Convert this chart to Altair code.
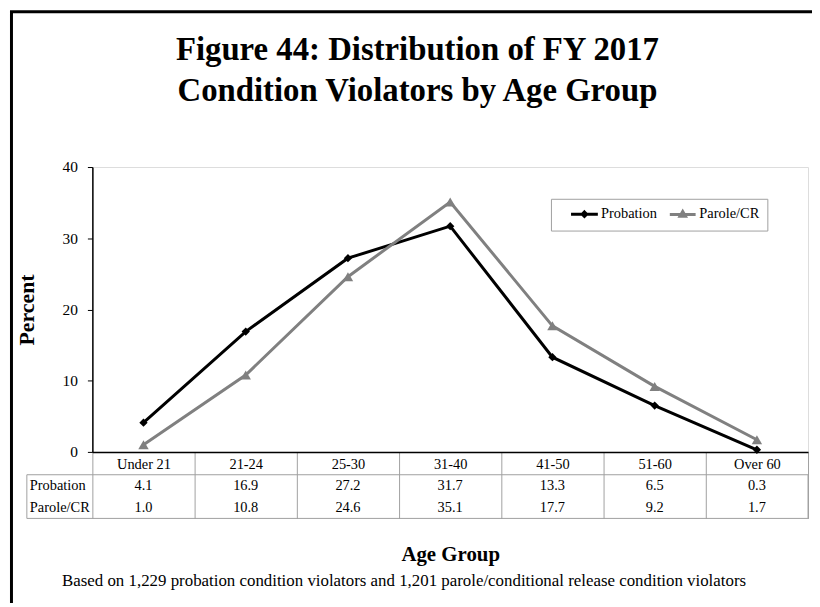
import altair as alt
import pandas as pd

# ---- data ----
categories = ["Under 21", "21-24", "25-30", "31-40", "41-50", "51-60", "Over 60"]
series = ["Probation", "Parole/CR"]
probation = [4.1, 16.9, 27.2, 31.7, 13.3, 6.5, 0.3]
parole = [1.0, 10.8, 24.6, 35.1, 17.7, 9.2, 1.7]
y_ticks = [0, 10, 20, 30, 40]
title_lines = ["Figure 44: Distribution of FY 2017", "Condition Violators by Age Group"]
footnote = "Based on 1,229 probation condition violators and 1,201 parole/conditional release condition violators"

rows = []
for s, vals in zip(series, [probation, parole]):
    for c, v in zip(categories, vals):
        rows.append({"category": c, "series": s, "value": v, "label": f"{v:.1f}"})
df = pd.DataFrame(rows)
series_df = pd.DataFrame({"series": series})
one = pd.DataFrame({"note": [footnote]})

FONT = "Liberation Serif"
GRAY = "#a0a0a0"
W, H = 721, 287

colors = alt.Scale(domain=series, range=["#000000", "#808080"])

X = alt.X(
    "category:N",
    sort=categories,
    bandPosition=0.5,
    scale=alt.Scale(type="band", domain=categories, paddingInner=0, paddingOuter=0),
    axis=alt.Axis(
        title="Age Group",
        titleFont=FONT, titleFontSize=21, titleFontWeight="bold", titleColor="black",
        titlePadding=25,
        labelFont=FONT, labelFontSize=14.5, labelColor="black", labelAngle=0,
        labelBaseline="middle", labelPadding=-54,
        tickBand="extent", tickSize=67, tickColor=GRAY, tickWidth=1,
        domainColor="black", domainWidth=1.5,
    ),
)

yscale = alt.Scale(domain=[0, 40], nice=False, zero=True)

border = alt.Chart(one).mark_rect(fillOpacity=0, stroke="black", strokeWidth=3).encode(
    x=alt.value(-81.5), x2=alt.value(760), y=alt.value(-156.5), y2=alt.value(520)
)

table_box = alt.Chart(one).mark_rect(fillOpacity=0, stroke=GRAY, strokeWidth=1).encode(
    x=alt.value(-66), x2=alt.value(W), y=alt.value(310), y2=alt.value(354)
)

lines = alt.Chart(df).mark_line(strokeWidth=3).encode(
    x=X,
    y=alt.Y(
        "value:Q", scale=yscale,
        axis=alt.Axis(
            values=y_ticks, title="Percent", grid=False,
            titleFont=FONT, titleFontSize=22, titleFontWeight="bold", titleColor="black",
            titlePadding=24,
            labelFont=FONT, labelFontSize=15.5, labelColor="black", labelPadding=10,
            tickSize=5, tickColor="black", domainColor="black", domainWidth=1.5,
        ),
    ),
    color=alt.Color("series:N", scale=colors, legend=None),
    order=alt.Order("series_order:Q"),
).transform_calculate(series_order="datum.series == 'Probation' ? 0 : 1")

points = alt.Chart(df).mark_point(filled=True, opacity=1).encode(
    x=X,
    y=alt.Y("value:Q", scale=yscale, axis=None),
    color=alt.Color("series:N", scale=colors, legend=None),
    shape=alt.Shape("series:N", scale=alt.Scale(domain=series, range=["diamond", "triangle-up"]), legend=None),
    size=alt.Size("series:N", scale=alt.Scale(domain=series, range=[70, 110]), legend=None),
)

row_scale = alt.Scale(type="point", domain=series, range=[321.5, 344], padding=0)

values = alt.Chart(df).mark_text(font=FONT, fontSize=14.5, color="black", baseline="middle").encode(
    x=X,
    y=alt.Y("series:N", scale=row_scale, axis=None),
    text="label:N",
)

row_labels = alt.Chart(series_df).mark_text(
    font=FONT, fontSize=14.5, color="black", align="left", baseline="middle"
).encode(
    x=alt.value(-63),
    y=alt.Y("series:N", scale=row_scale, axis=None),
    text="series:N",
)

note = alt.Chart(one).mark_text(font=FONT, fontSize=17, color="black", align="center", baseline="alphabetic").encode(
    x=alt.value(314), y=alt.value(422), text="note:N"
)

legend_paths = [
    "M-2.7,0H2.7M0,-0.45L0.45,0L0,0.45L-0.45,0Z",
    "M-2.6,0H2.6M0,-0.6L0.55,0.35L-0.55,0.35Z",
]
leg = alt.Legend(
    title=None, orient="none", legendX=462, legendY=32, direction="horizontal",
    strokeColor=GRAY, fillColor="white", padding=8,
    labelFont=FONT, labelFontSize=14.5, labelColor="black",
    symbolSize=100, symbolStrokeWidth=3, symbolOffset=18.5, labelOffset=9.5, columnPadding=0,
    labelExpr="datum.label + (datum.value == 'Parole/CR' ? '\u00a0\u00a0\u00a0\u00a0' : '\u00a0\u00a0')",
)
legend_layer = alt.Chart(df).transform_filter("false").mark_point(filled=False, opacity=1, strokeWidth=3).encode(
    color=alt.Color("series:N", scale=colors, legend=leg),
    shape=alt.Shape("series:N", scale=alt.Scale(domain=series, range=legend_paths), legend=leg),
)

chart = alt.layer(
    border, table_box, lines, points, values, row_labels, note, legend_layer
).resolve_scale(
    y="independent", color="independent", shape="independent", size="independent"
).properties(
    width=W, height=H,
    title=alt.TitleParams(
        text=title_lines, font=FONT, fontSize=33, fontWeight="bold", color="black",
        anchor="middle", frame="group", dx=-33, lineHeight=41, baseline="bottom", offset=-131,
    ),
    autosize=alt.AutoSizeParams(type="none"),
    padding={"left": 85, "top": 158, "right": 4, "bottom": 150},
).configure_view(stroke=GRAY, strokeWidth=1).configure(background="white")

chart.save("out.html", embed_options={"renderer": "svg", "actions": False})
